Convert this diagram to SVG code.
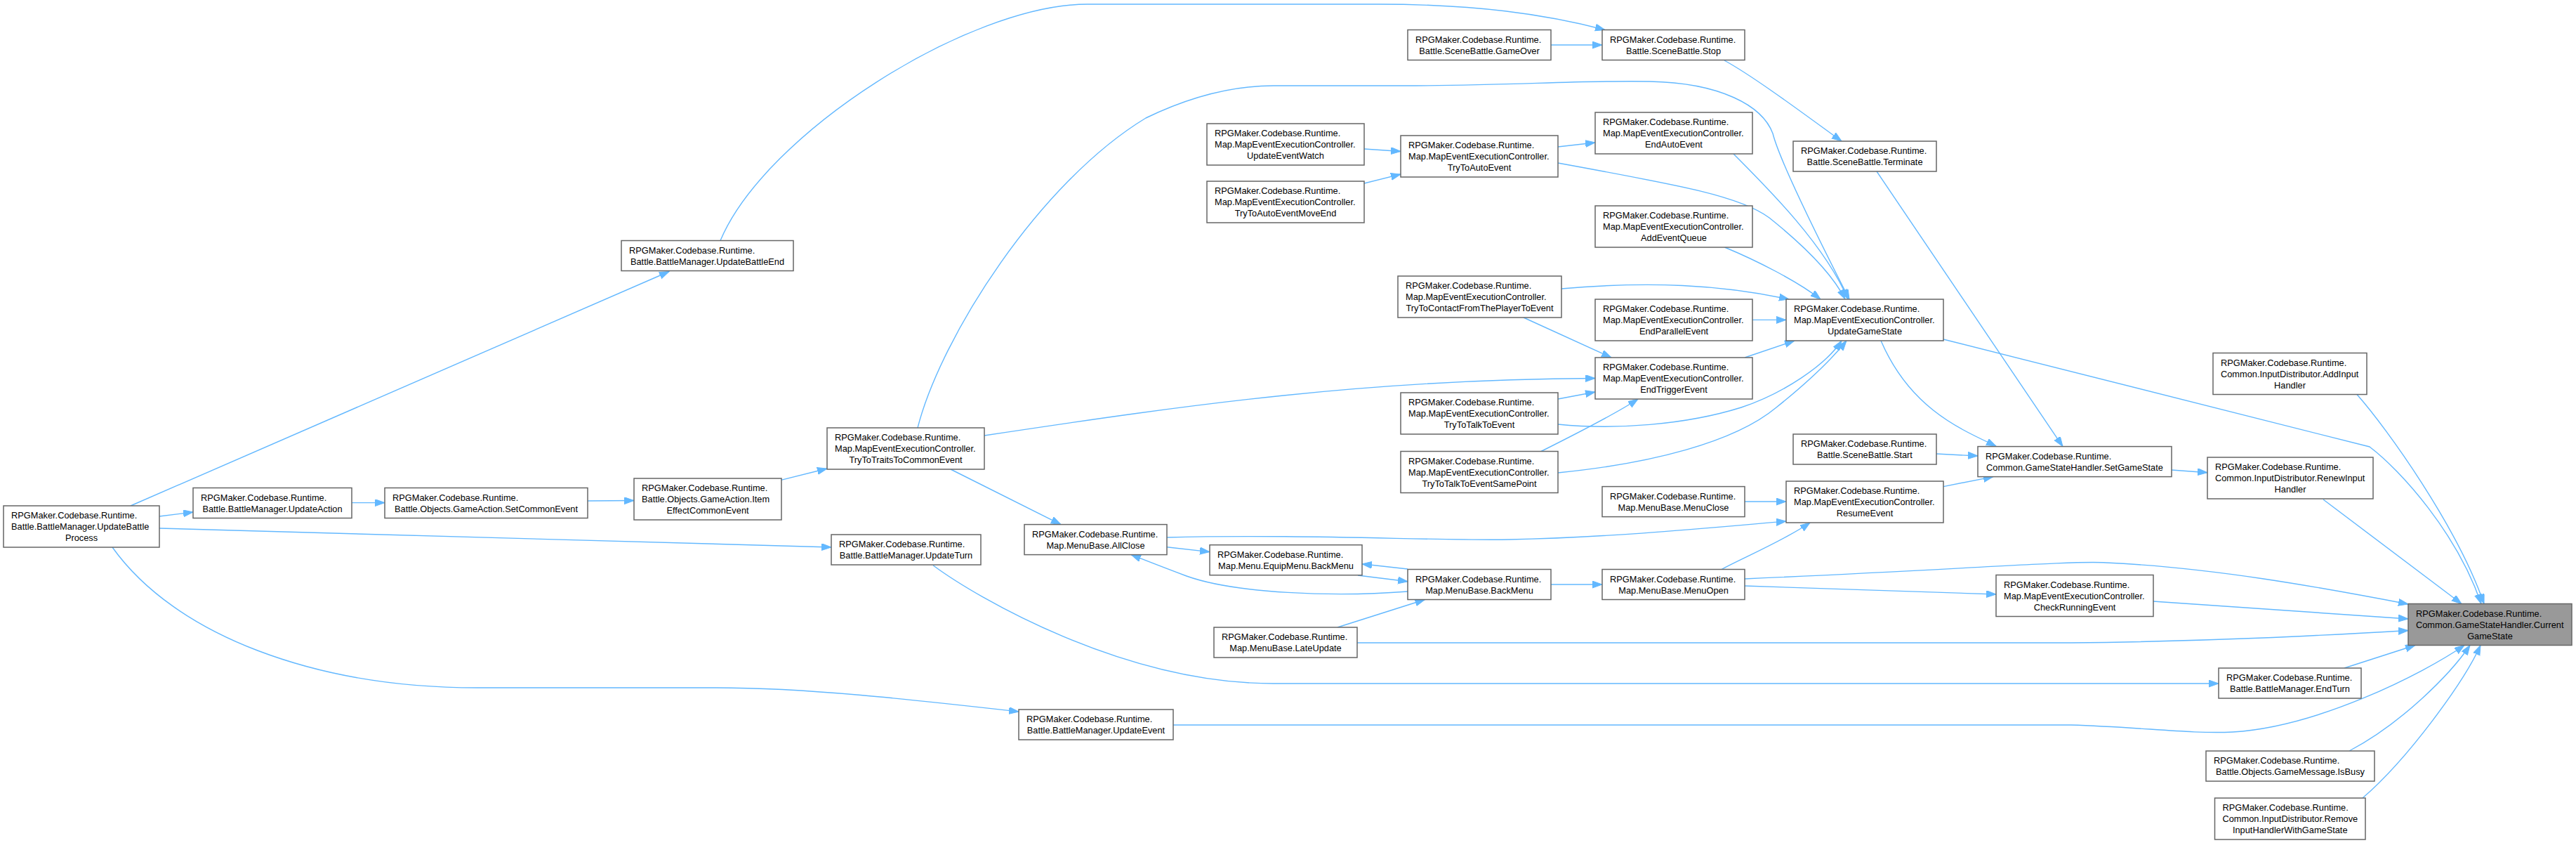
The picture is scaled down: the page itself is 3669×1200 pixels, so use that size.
<svg xmlns="http://www.w3.org/2000/svg" width="3669" height="1200" viewBox="0 0 3669 1200">
<style>
.n rect{fill:#ffffff;stroke:#666666;stroke-width:1.5}
.hl rect{fill:#999999}
text{font-family:"Liberation Sans",Arial,sans-serif;font-size:12.8px;fill:#000000}
.c{text-anchor:middle}
.e path{fill:none;stroke:#63B8FF;stroke-width:1.4;marker-end:url(#arr)}
</style>
<defs>
<marker id="arr" markerUnits="userSpaceOnUse" markerWidth="16" markerHeight="12" refX="14" refY="5" orient="auto">
<path d="M0,0 L14,5 L0,10 z" fill="#63B8FF" stroke="#63B8FF" stroke-width="1"/>
</marker>
</defs>
<rect width="3669" height="1200" fill="#ffffff"/>
<g class="e" id="edges">
<path d="M227,735 L275,729"/>
<path d="M501,715.6 L548,715.6"/>
<path d="M837,713 L903,712.5"/>
<path d="M1112.5,683.4 L1178,667"/>
<path d="M227,752 L1184,779"/>
<path d="M160,779 C250,905 450,979 680,979 L1020,979 C1150,979 1300,996 1451,1013"/>
<path d="M186,720 L953,386.5"/>
<path d="M1026,342.5 C1090,190 1380,6 1549,6 L1963,6 C2100,6 2200,20 2286,42.5"/>
<path d="M2209,64 L2282,64"/>
<path d="M2456,86 C2500,110 2580,170 2623,201"/>
<path d="M2673,244 L2938,635.6"/>
<path d="M2679,485 C2720,580 2790,610 2843,635"/>
<path d="M2758,646 L2817,649"/>
<path d="M2768,692.6 L2839,678.6"/>
<path d="M3093,669 L3144,672.7"/>
<path d="M3309,711 L3506,859.5"/>
<path d="M2768,483 L3375,636 C3420,670 3500,760 3534,859.5"/>
<path d="M3357,561.5 C3400,610 3500,750 3538,859.5"/>
<path d="M2485,824 C2800,810 2950,798 3000,801 C3150,808 3300,835 3430,860"/>
<path d="M2485,834 L2843,846"/>
<path d="M3067,856 L3430,881"/>
<path d="M1933,915 L2950,915 C3150,913 3300,905 3430,897.5"/>
<path d="M1329,804.7 C1390,850 1600,973 1814,973 L3160,973"/>
<path d="M1671,1032 L2950,1032 C3050,1035 3120,1045 3180,1042 C3300,1035 3450,960 3510,918.5"/>
<path d="M3339,951 L3440,918.5"/>
<path d="M3346,1069 C3420,1030 3490,960 3518,918.5"/>
<path d="M3365,1136 C3430,1080 3510,970 3533,918.5"/>
<path d="M2456.5,352 C2500,370 2560,400 2593,426"/>
<path d="M2469,219 C2520,270 2600,350 2632,426"/>
<path d="M1307,609 C1340,480 1480,260 1632,168 C1700,135 1760,122 1814,122 L2000,122 C2150,122 2250,114 2350,116 C2450,118 2510,150 2525,190 C2535,230 2590,340 2634,426"/>
<path d="M2219,232 C2400,265 2480,280 2520,310 C2570,350 2610,390 2628,426"/>
<path d="M2224,411 C2350,400 2450,405 2548,426"/>
<path d="M2496,455.4 L2544,455.4"/>
<path d="M2485,509 L2556,485"/>
<path d="M2170,452 L2295,509"/>
<path d="M1402,620 C1700,575 1950,540 2272,538.5"/>
<path d="M2219,568 L2272,558"/>
<path d="M2219,604 C2300,612 2400,605 2480,580 C2540,560 2600,520 2623,485"/>
<path d="M2195,642.5 C2240,620 2300,590 2333,568"/>
<path d="M2219,673 C2350,660 2470,630 2530,580 C2580,540 2610,510 2630,485"/>
<path d="M2485,714 L2544,714"/>
<path d="M1662,765 C1850,760 2050,770 2150,768 C2300,765 2450,750 2544,742"/>
<path d="M2452,810.5 C2480,795 2540,770 2578,744"/>
<path d="M1662,778.7 L1723,785.6"/>
<path d="M2005,810 L1940,802.8"/>
<path d="M1934,819 L2005,827.7"/>
<path d="M2005,842 C1900,850 1760,845 1690,820 C1650,805 1625,795 1611,789.6"/>
<path d="M2209,832 L2282,832"/>
<path d="M1905,893 L2029.5,853.5"/>
<path d="M1354,668 L1511,746.6"/>
<path d="M1943,212 L1995,215.5"/>
<path d="M1943,261 L1995,248"/>
<path d="M2219,209 L2272,203"/>
</g>
<g class="n" id="n_UpdateBattleProcess"><rect x="5" y="720" width="222" height="59"/><text x="16" y="738.3">RPGMaker.Codebase.Runtime.</text><text x="16" y="754.3">Battle.BattleManager.UpdateBattle</text><text class="c" x="116" y="770.3">Process</text></g>
<g class="n" id="n_UpdateAction"><rect x="275" y="694.5" width="226" height="43"/><text x="286" y="712.8">RPGMaker.Codebase.Runtime.</text><text class="c" x="388" y="728.8">Battle.BattleManager.UpdateAction</text></g>
<g class="n" id="n_SetCommonEvent"><rect x="548" y="694.5" width="289" height="43"/><text x="559" y="712.8">RPGMaker.Codebase.Runtime.</text><text class="c" x="692.5" y="728.8">Battle.Objects.GameAction.SetCommonEvent</text></g>
<g class="n" id="n_ItemEffectCommonEvent"><rect x="903" y="681" width="210" height="59"/><text x="914" y="699.3">RPGMaker.Codebase.Runtime.</text><text x="914" y="715.3">Battle.Objects.GameAction.Item</text><text class="c" x="1008" y="731.3">EffectCommonEvent</text></g>
<g class="n" id="n_TryToTraitsToCommonEvent"><rect x="1178" y="609" width="224" height="59"/><text x="1189" y="627.3">RPGMaker.Codebase.Runtime.</text><text x="1189" y="643.3">Map.MapEventExecutionController.</text><text class="c" x="1290" y="659.3">TryToTraitsToCommonEvent</text></g>
<g class="n" id="n_UpdateTurn"><rect x="1184" y="761" width="213" height="43"/><text x="1195" y="779.3">RPGMaker.Codebase.Runtime.</text><text class="c" x="1290.5" y="795.3">Battle.BattleManager.UpdateTurn</text></g>
<g class="n" id="n_UpdateBattleEnd"><rect x="885" y="342.5" width="245" height="43"/><text x="896" y="360.8">RPGMaker.Codebase.Runtime.</text><text class="c" x="1007.5" y="376.8">Battle.BattleManager.UpdateBattleEnd</text></g>
<g class="n" id="n_UpdateEvent"><rect x="1451" y="1010" width="220" height="43"/><text x="1462" y="1028.3">RPGMaker.Codebase.Runtime.</text><text class="c" x="1561" y="1044.3">Battle.BattleManager.UpdateEvent</text></g>
<g class="n" id="n_AllClose"><rect x="1459" y="746.6" width="203" height="43"/><text x="1470" y="764.9">RPGMaker.Codebase.Runtime.</text><text class="c" x="1560.5" y="780.9">Map.MenuBase.AllClose</text></g>
<g class="n" id="n_GameOver"><rect x="2005" y="42.5" width="204" height="43"/><text x="2016" y="60.8">RPGMaker.Codebase.Runtime.</text><text class="c" x="2107" y="76.8">Battle.SceneBattle.GameOver</text></g>
<g class="n" id="n_Stop"><rect x="2282" y="42.5" width="203" height="43"/><text x="2293" y="60.8">RPGMaker.Codebase.Runtime.</text><text class="c" x="2383.5" y="76.8">Battle.SceneBattle.Stop</text></g>
<g class="n" id="n_UpdateEventWatch"><rect x="1719" y="176" width="224" height="59"/><text x="1730" y="194.3">RPGMaker.Codebase.Runtime.</text><text x="1730" y="210.3">Map.MapEventExecutionController.</text><text class="c" x="1831" y="226.3">UpdateEventWatch</text></g>
<g class="n" id="n_TryToAutoEventMoveEnd"><rect x="1719" y="258" width="224" height="59"/><text x="1730" y="276.3">RPGMaker.Codebase.Runtime.</text><text x="1730" y="292.3">Map.MapEventExecutionController.</text><text class="c" x="1831" y="308.3">TryToAutoEventMoveEnd</text></g>
<g class="n" id="n_TryToAutoEvent"><rect x="1995" y="193" width="224" height="59"/><text x="2006" y="211.3">RPGMaker.Codebase.Runtime.</text><text x="2006" y="227.3">Map.MapEventExecutionController.</text><text class="c" x="2107" y="243.3">TryToAutoEvent</text></g>
<g class="n" id="n_EndAutoEvent"><rect x="2272" y="160" width="224" height="59"/><text x="2283" y="178.3">RPGMaker.Codebase.Runtime.</text><text x="2283" y="194.3">Map.MapEventExecutionController.</text><text class="c" x="2384" y="210.3">EndAutoEvent</text></g>
<g class="n" id="n_AddEventQueue"><rect x="2272" y="293" width="224" height="59"/><text x="2283" y="311.3">RPGMaker.Codebase.Runtime.</text><text x="2283" y="327.3">Map.MapEventExecutionController.</text><text class="c" x="2384" y="343.3">AddEventQueue</text></g>
<g class="n" id="n_TryToContactFromThePlayerToEvent"><rect x="1991" y="393" width="233" height="59"/><text x="2002" y="411.3">RPGMaker.Codebase.Runtime.</text><text x="2002" y="427.3">Map.MapEventExecutionController.</text><text class="c" x="2107.5" y="443.3">TryToContactFromThePlayerToEvent</text></g>
<g class="n" id="n_EndParallelEvent"><rect x="2272" y="426" width="224" height="59"/><text x="2283" y="444.3">RPGMaker.Codebase.Runtime.</text><text x="2283" y="460.3">Map.MapEventExecutionController.</text><text class="c" x="2384" y="476.3">EndParallelEvent</text></g>
<g class="n" id="n_EndTriggerEvent"><rect x="2272" y="509" width="224" height="59"/><text x="2283" y="527.3">RPGMaker.Codebase.Runtime.</text><text x="2283" y="543.3">Map.MapEventExecutionController.</text><text class="c" x="2384" y="559.3">EndTriggerEvent</text></g>
<g class="n" id="n_TryToTalkToEvent"><rect x="1995" y="559" width="224" height="59"/><text x="2006" y="577.3">RPGMaker.Codebase.Runtime.</text><text x="2006" y="593.3">Map.MapEventExecutionController.</text><text class="c" x="2107" y="609.3">TryToTalkToEvent</text></g>
<g class="n" id="n_TryToTalkToEventSamePoint"><rect x="1995" y="642.5" width="224" height="59"/><text x="2006" y="660.8">RPGMaker.Codebase.Runtime.</text><text x="2006" y="676.8">Map.MapEventExecutionController.</text><text class="c" x="2107" y="692.8">TryToTalkToEventSamePoint</text></g>
<g class="n" id="n_UpdateGameState"><rect x="2544" y="426" width="224" height="59"/><text x="2555" y="444.3">RPGMaker.Codebase.Runtime.</text><text x="2555" y="460.3">Map.MapEventExecutionController.</text><text class="c" x="2656" y="476.3">UpdateGameState</text></g>
<g class="n" id="n_Terminate"><rect x="2554" y="201" width="204" height="43"/><text x="2565" y="219.3">RPGMaker.Codebase.Runtime.</text><text class="c" x="2656" y="235.3">Battle.SceneBattle.Terminate</text></g>
<g class="n" id="n_Start"><rect x="2554" y="618" width="204" height="43"/><text x="2565" y="636.3">RPGMaker.Codebase.Runtime.</text><text class="c" x="2656" y="652.3">Battle.SceneBattle.Start</text></g>
<g class="n" id="n_SetGameState"><rect x="2817" y="635.6" width="276" height="43"/><text x="2828" y="653.9">RPGMaker.Codebase.Runtime.</text><text class="c" x="2955" y="669.9">Common.GameStateHandler.SetGameState</text></g>
<g class="n" id="n_ResumeEvent"><rect x="2544" y="685" width="224" height="59"/><text x="2555" y="703.3">RPGMaker.Codebase.Runtime.</text><text x="2555" y="719.3">Map.MapEventExecutionController.</text><text class="c" x="2656" y="735.3">ResumeEvent</text></g>
<g class="n" id="n_MenuClose"><rect x="2282" y="692.6" width="203" height="43"/><text x="2293" y="710.9">RPGMaker.Codebase.Runtime.</text><text class="c" x="2383.5" y="726.9">Map.MenuBase.MenuClose</text></g>
<g class="n" id="n_EquipMenuBackMenu"><rect x="1723" y="775.7" width="217" height="43"/><text x="1734" y="794">RPGMaker.Codebase.Runtime.</text><text class="c" x="1831.5" y="810">Map.Menu.EquipMenu.BackMenu</text></g>
<g class="n" id="n_MenuBaseBackMenu"><rect x="2005" y="810.5" width="204" height="43"/><text x="2016" y="828.8">RPGMaker.Codebase.Runtime.</text><text class="c" x="2107" y="844.8">Map.MenuBase.BackMenu</text></g>
<g class="n" id="n_MenuOpen"><rect x="2282" y="810.5" width="203" height="43"/><text x="2293" y="828.8">RPGMaker.Codebase.Runtime.</text><text class="c" x="2383.5" y="844.8">Map.MenuBase.MenuOpen</text></g>
<g class="n" id="n_LateUpdate"><rect x="1729" y="893" width="204" height="43"/><text x="1740" y="911.3">RPGMaker.Codebase.Runtime.</text><text class="c" x="1831" y="927.3">Map.MenuBase.LateUpdate</text></g>
<g class="n" id="n_CheckRunningEvent"><rect x="2843" y="818.5" width="224" height="59"/><text x="2854" y="836.8">RPGMaker.Codebase.Runtime.</text><text x="2854" y="852.8">Map.MapEventExecutionController.</text><text class="c" x="2955" y="868.8">CheckRunningEvent</text></g>
<g class="n" id="n_RenewInputHandler"><rect x="3144" y="651" width="236" height="59"/><text x="3155" y="669.3">RPGMaker.Codebase.Runtime.</text><text x="3155" y="685.3">Common.InputDistributor.RenewInput</text><text class="c" x="3262" y="701.3">Handler</text></g>
<g class="n" id="n_AddInputHandler"><rect x="3152" y="502.5" width="219" height="59"/><text x="3163" y="520.8">RPGMaker.Codebase.Runtime.</text><text x="3163" y="536.8">Common.InputDistributor.AddInput</text><text class="c" x="3261.5" y="552.8">Handler</text></g>
<g class="n hl" id="n_CurrentGameState"><rect x="3430" y="859.5" width="233" height="59"/><text x="3441" y="877.8">RPGMaker.Codebase.Runtime.</text><text x="3441" y="893.8">Common.GameStateHandler.Current</text><text class="c" x="3546.5" y="909.8">GameState</text></g>
<g class="n" id="n_EndTurn"><rect x="3160" y="951" width="203" height="43"/><text x="3171" y="969.3">RPGMaker.Codebase.Runtime.</text><text class="c" x="3261.5" y="985.3">Battle.BattleManager.EndTurn</text></g>
<g class="n" id="n_IsBusy"><rect x="3142" y="1069" width="240" height="43"/><text x="3153" y="1087.3">RPGMaker.Codebase.Runtime.</text><text class="c" x="3262" y="1103.3">Battle.Objects.GameMessage.IsBusy</text></g>
<g class="n" id="n_RemoveInputHandlerWithGameState"><rect x="3154.5" y="1136" width="214.5" height="59"/><text x="3165.5" y="1154.3">RPGMaker.Codebase.Runtime.</text><text x="3165.5" y="1170.3">Common.InputDistributor.Remove</text><text class="c" x="3261.75" y="1186.3">InputHandlerWithGameState</text></g>
</svg>
